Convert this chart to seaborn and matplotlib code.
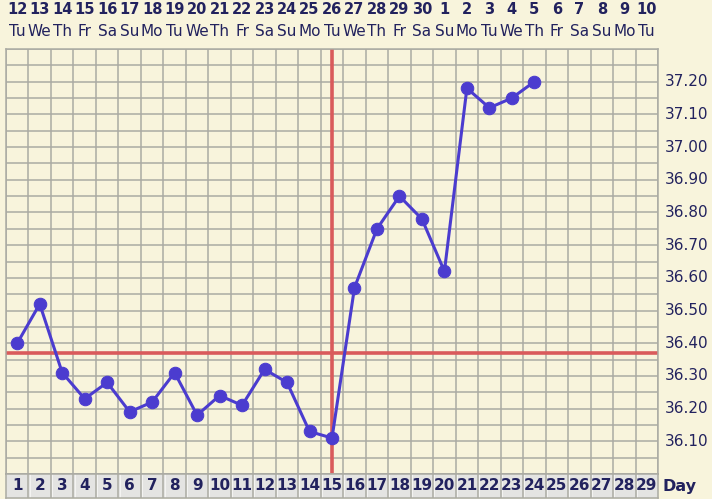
import numpy as np
import pandas as pd
import matplotlib
matplotlib.use('Agg')
import matplotlib.pyplot as plt
import matplotlib.transforms as mtrans
import seaborn as sns

# data
cycle_day = list(range(1, 25))
temp = [36.40, 36.52, 36.31, 36.23, 36.28, 36.19, 36.22, 36.31, 36.18, 36.24,
        36.21, 36.32, 36.28, 36.13, 36.11, 36.57, 36.75, 36.85, 36.78, 36.62,
        37.18, 37.12, 37.15, 37.20]
dates = [str(d) for d in range(12, 31)] + [str(d) for d in range(1, 11)]
weekdays = (['Tu', 'We', 'Th', 'Fr', 'Sa', 'Su', 'Mo'] * 5)[:29]
days_all = list(range(1, 30))
temp_labels = [36.10, 36.20, 36.30, 36.40, 36.50, 36.60, 36.70, 36.80,
               36.90, 37.00, 37.10, 37.20]
coverline = 36.37
ovulation_day = 15

bg = '#F8F4DC'
grid_c = '#ABABA3'
navy = '#22225E'
blue = '#4B3CCF'
red = '#D95B5B'

sns.set_theme(style='white')
plt.rcParams['font.family'] = ['DejaVu Sans']

df = pd.DataFrame({'day': cycle_day, 'temp': temp})

W, H = 712, 499
fig = plt.figure(figsize=(W / 100, H / 100), dpi=100)
fig.patch.set_facecolor(bg)

# main chart area
ax = fig.add_axes([6 / W, (H - 474) / H, 652 / W, 425 / H])
ax.set_facecolor(bg)
ax.set_xlim(0.5, 29.5)
ax.set_ylim(36.00, 37.30)
ax.set_xticks(np.arange(0.5, 30, 1))
ax.set_yticks(np.arange(36.00, 37.31, 0.05))
ax.grid(True, color=grid_c, linewidth=1.1)
ax.tick_params(length=0, labelbottom=False, labelleft=False)
for s in ax.spines.values():
    s.set_color(grid_c)
    s.set_linewidth(1.1)

ax.axhline(coverline, color=red, linewidth=2.6, zorder=2)
ax.axvline(ovulation_day, color=red, linewidth=2.6, zorder=2)

sns.lineplot(data=df, x='day', y='temp', ax=ax, color=blue, linewidth=2.2,
             marker='o', markersize=9, markeredgecolor=blue, zorder=3)
ax.set_xlabel('')
ax.set_ylabel('')

# right temperature labels
tr_r = mtrans.blended_transform_factory(fig.transFigure, ax.transData)
for t in temp_labels:
    ax.text(665 / W, t, f'{t:.2f}', transform=tr_r, ha='left', va='center',
            fontsize=11, color=navy, clip_on=False)

# top date / weekday rows
tr_t = mtrans.blended_transform_factory(ax.transData, fig.transFigure)
for d, lab, wd in zip(days_all, dates, weekdays):
    ax.text(d, 1 - 9 / H, lab, transform=tr_t, ha='center', va='center',
            fontsize=10.5, fontweight='bold', color=navy, clip_on=False)
    ax.text(d, 1 - 31 / H, wd, transform=tr_t, ha='center', va='center',
            fontsize=11, color=navy, clip_on=False)

# bottom day row
ax2 = fig.add_axes([6 / W, (H - 498) / H, 652 / W, 24 / H])
ax2.set_facecolor('#E4E4E2')
ax2.set_xlim(0.5, 29.5)
ax2.set_ylim(0, 1)
ax2.set_xticks([])
ax2.set_yticks([])
for s in ax2.spines.values():
    s.set_color(grid_c)
    s.set_linewidth(1.1)
for b in np.arange(1.5, 29.5, 1):
    ax2.axvline(b, color=grid_c, linewidth=1.1)
    ax2.axvline(b + 0.05, color='#F4F4F2', linewidth=0.8)
for d in days_all:
    ax2.text(d, 0.5, str(d), ha='center', va='center', fontsize=11,
             fontweight='bold', color=navy)
fig.text(663 / W, 1 - 486 / H, 'Day', ha='left', va='center', fontsize=11.5,
         fontweight='bold', color=navy)

fig.savefig('out.png', dpi=100, facecolor=bg)
